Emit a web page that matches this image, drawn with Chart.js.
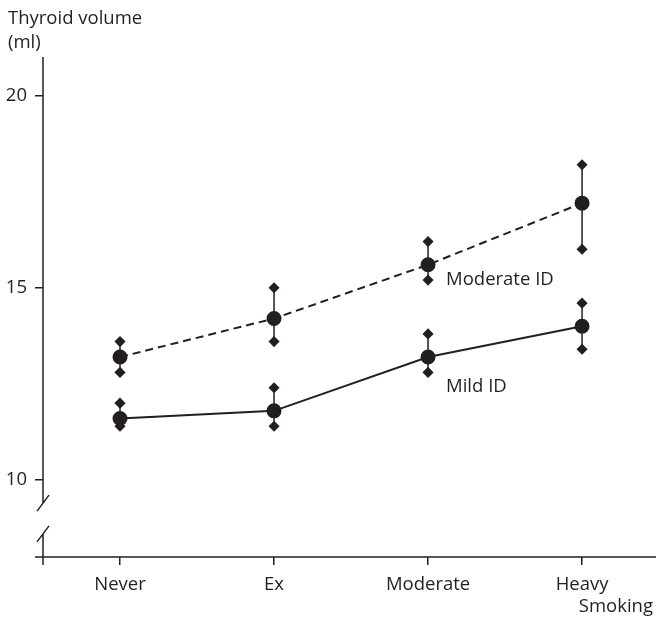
<!DOCTYPE html>
<html>
<head>
<meta charset="utf-8">
<script src="https://cdn.jsdelivr.net/npm/chart.js@4/dist/chart.umd.min.js"></script>
<style>
  html, body { margin: 0; padding: 0; background: #fff; }
  #wrap { width: 656px; height: 617px; }
</style>
</head>
<body>
<div id="wrap"><canvas id="chart"></canvas></div>
<script>
// data
const categories = ["Never", "Ex", "Moderate", "Heavy"]
const yTicks = [10, 15, 20]

const mildMean = [11.6, 11.8, 13.2, 14.0]
const mildLow = [11.4, 11.4, 12.8, 13.4]
const mildHigh = [12.0, 12.4, 13.8, 14.6]

const modMean = [13.2, 14.2, 15.6, 17.2]
const modLow = [12.8, 13.6, 15.2, 16.0]
const modHigh = [13.6, 15.0, 16.2, 18.2]

const ink = "#231f20"
const font = "'Open Sans', 'Noto Sans', sans-serif"
const fsize = 18.5

// whisker line with gaps between categories
const whiskers = (low, high) => {
  const pts = []
  low.forEach((v, i) => {
    pts.push({ x: i, y: v }, { x: i, y: high[i] }, { x: i, y: null })
  })
  return pts
}
const means = (arr) => arr.map((v, i) => ({ x: i, y: v }))

// axes with the break on the y axis, plus the free text
const axesPlugin = {
  id: "axesPlugin",
  afterDraw(chart) {
    const ctx = chart.ctx
    const x = chart.scales.x
    const y = chart.scales.y
    const area = chart.chartArea
    const left = area.left
    const bTop = y.getPixelForValue(9.4)
    const bBot = y.getPixelForValue(8.6)
    ctx.save()
    ctx.strokeStyle = ink
    ctx.lineWidth = 1.5
    ctx.beginPath()
    ctx.moveTo(left, area.top)
    ctx.lineTo(left, bTop)
    ctx.moveTo(left, bBot)
    ctx.lineTo(left, area.bottom + 8)
    // break slashes
    ctx.moveTo(left - 6, bTop + 8)
    ctx.lineTo(left + 6, bTop - 8)
    ctx.moveTo(left - 6, bBot + 8)
    ctx.lineTo(left + 6, bBot - 8)
    // x axis
    ctx.moveTo(left - 8, area.bottom)
    ctx.lineTo(area.right, area.bottom)
    ctx.stroke()

    ctx.fillStyle = ink
    ctx.font = fsize + "px " + font
    ctx.textBaseline = "middle"
    ctx.textAlign = "left"
    ctx.fillText("Thyroid volume", 8, 19)
    ctx.fillText("(ml)", 8, 43)
    ctx.fillText("Moderate ID", x.getPixelForValue(2) + 18, y.getPixelForValue(15.22))
    ctx.fillText("Mild ID", x.getPixelForValue(2) + 18, y.getPixelForValue(12.42))
    ctx.textAlign = "right"
    ctx.fillText("Smoking", area.right - 3, 607)
    ctx.restore()
  },
}

const ctx = document.getElementById("chart").getContext("2d")
new Chart(ctx, {
  type: "line",
  data: {
    datasets: [
      {
        label: "Moderate ID",
        data: means(modMean),
        borderColor: ink,
        backgroundColor: ink,
        borderWidth: 2,
        borderDash: [8, 5],
        pointRadius: 6.5,
        pointStyle: "circle",
        tension: 0,
      },
      {
        label: "Mild ID",
        data: means(mildMean),
        borderColor: ink,
        backgroundColor: ink,
        borderWidth: 2,
        pointRadius: 6.5,
        pointStyle: "circle",
        tension: 0,
      },
      {
        label: "Moderate range",
        data: whiskers(modLow, modHigh),
        borderColor: ink,
        backgroundColor: ink,
        borderWidth: 1.5,
        pointStyle: "rectRot",
        pointRadius: 4.5,
        spanGaps: false,
      },
      {
        label: "Mild range",
        data: whiskers(mildLow, mildHigh),
        borderColor: ink,
        backgroundColor: ink,
        borderWidth: 1.5,
        pointStyle: "rectRot",
        pointRadius: 4.5,
        spanGaps: false,
      },
    ],
  },
  options: {
    responsive: true,
    maintainAspectRatio: false,
    animation: false,
    layout: { autoPadding: false, padding: { top: 57, left: 0, right: 0, bottom: 0 } },
    plugins: {
      legend: { display: false },
      tooltip: { enabled: false },
    },
    scales: {
      x: {
        type: "linear",
        min: -0.5,
        max: 3.48,
        afterBuildTicks: (s) => { s.ticks = categories.map((c, i) => ({ value: i })) },
        afterFit: (s) => {
          s.height = 60
          s.paddingLeft = 0
          s.paddingRight = 0
        },
        ticks: {
          color: ink,
          font: { family: font, size: fsize },
          padding: 9,
          maxRotation: 0,
          callback: (v) => categories[v],
        },
        grid: { drawOnChartArea: false, drawTicks: true, tickLength: 8, color: ink, lineWidth: 1.5 },
        border: { display: false },
      },
      y: {
        min: 8,
        max: 21,
        afterBuildTicks: (s) => { s.ticks = yTicks.map((v) => ({ value: v })) },
        afterFit: (s) => {
          s.width = 43
          s.paddingTop = 0
          s.paddingBottom = 0
        },
        ticks: {
          color: ink,
          font: { family: font, size: fsize },
          padding: 8,
        },
        grid: { drawOnChartArea: false, drawTicks: true, tickLength: 8, color: ink, lineWidth: 1.5 },
        border: { display: false },
      },
    },
  },
  plugins: [axesPlugin],
})
</script>
</body>
</html>
